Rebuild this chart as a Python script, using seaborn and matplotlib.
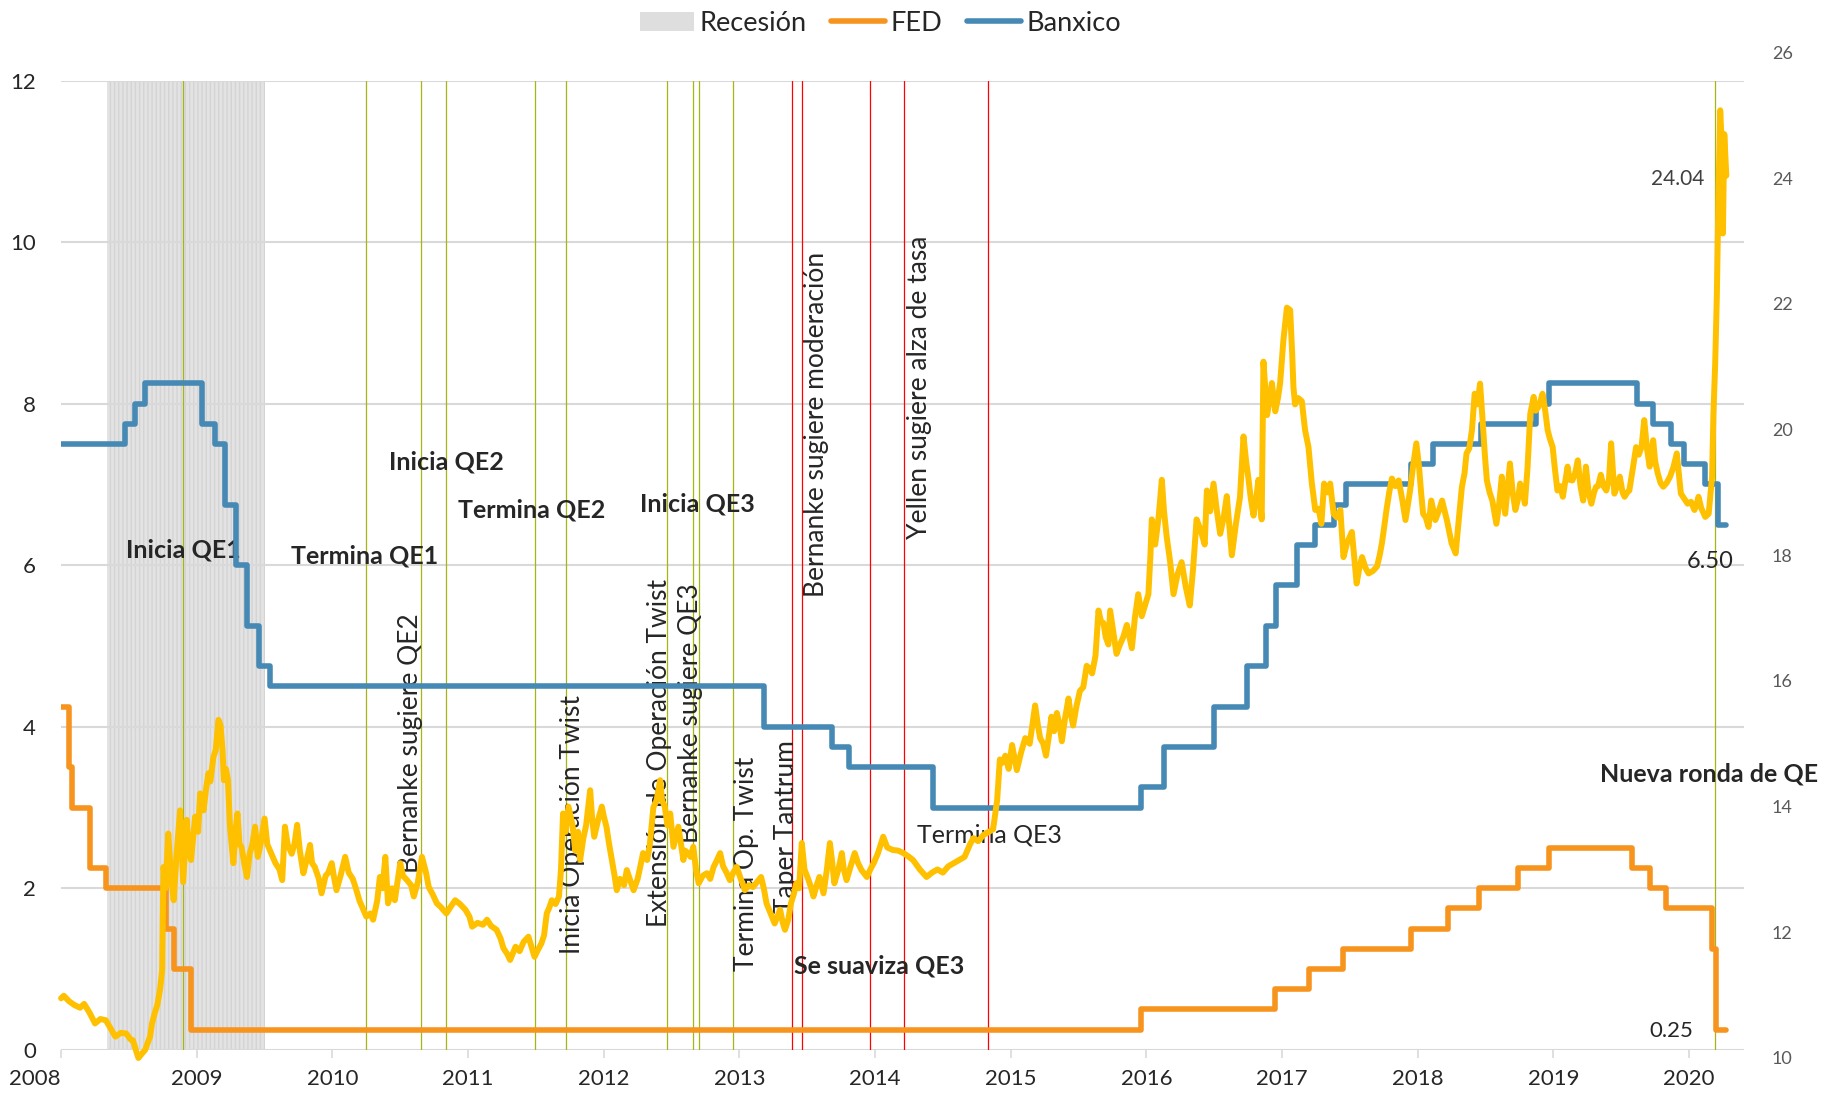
import matplotlib.pyplot as plt
import seaborn as sns
from matplotlib.lines import Line2D
from matplotlib.patches import Patch

# Tasa objetivo FED (limite superior), fechas en anios decimales
fed_t = [2008.00, 2008.056, 2008.08, 2008.21, 2008.33, 2008.77, 2008.83, 2008.96,
         2015.96, 2016.95, 2017.20, 2017.45, 2017.95, 2018.22, 2018.45, 2018.74,
         2018.97, 2019.58, 2019.71, 2019.83, 2020.17, 2020.20]
fed_rate = [4.25, 3.5, 3.0, 2.25, 2.0, 1.5, 1.0, 0.25,
            0.5, 0.75, 1.0, 1.25, 1.5, 1.75, 2.0, 2.25,
            2.5, 2.25, 2.0, 1.75, 1.25, 0.25]

# Tasa objetivo Banxico
banxico_t = [2008.00, 2008.47, 2008.545, 2008.62, 2009.04, 2009.135, 2009.21, 2009.29,
             2009.37, 2009.46, 2009.54, 2013.18, 2013.68, 2013.81, 2014.43, 2015.96,
             2016.13, 2016.50, 2016.745, 2016.88, 2016.955, 2017.11, 2017.24, 2017.38,
             2017.47, 2017.95, 2018.11, 2018.47, 2018.87, 2018.97, 2019.62, 2019.735,
             2019.87, 2019.965, 2020.12, 2020.215]
banxico_rate = [7.5, 7.75, 8.0, 8.25, 7.75, 7.5, 6.75, 6.0,
                5.25, 4.75, 4.5, 4.0, 3.75, 3.5, 3.0, 3.25,
                3.75, 4.25, 4.75, 5.25, 5.75, 6.25, 6.5, 6.75,
                7.0, 7.25, 7.5, 7.75, 8.0, 8.25, 8.0, 7.75,
                7.5, 7.25, 7.0, 6.5]

last_day = 2020.275

# Tipo de cambio USD/MXN (eje derecho)
fx_t = [
    2008.00, 2008.02, 2008.06, 2008.10, 2008.14, 2008.17, 2008.21, 2008.25, 2008.29, 2008.33,
    2008.37, 2008.40, 2008.44, 2008.48, 2008.51, 2008.53, 2008.555, 2008.57, 2008.60, 2008.62,
    2008.64, 2008.656, 2008.67, 2008.69, 2008.71, 2008.73, 2008.745, 2008.75, 2008.755, 2008.77,
    2008.79, 2008.81, 2008.83, 2008.85, 2008.877, 2008.90, 2008.926, 2008.94, 2008.958, 2008.988,
    2009.01, 2009.025, 2009.05, 2009.07, 2009.086, 2009.10, 2009.123, 2009.14, 2009.16, 2009.175,
    2009.19, 2009.20, 2009.215, 2009.23, 2009.245, 2009.27, 2009.285, 2009.30, 2009.315, 2009.33,
    2009.35, 2009.37, 2009.39, 2009.41, 2009.43, 2009.45, 2009.47, 2009.50, 2009.52, 2009.55,
    2009.58, 2009.61, 2009.63, 2009.65, 2009.67, 2009.70, 2009.72, 2009.74, 2009.76, 2009.786,
    2009.81, 2009.835, 2009.85, 2009.87, 2009.90, 2009.92, 2009.95, 2009.97, 2009.995,
    2010.01, 2010.03, 2010.06, 2010.094, 2010.12, 2010.15, 2010.17, 2010.20, 2010.23, 2010.25,
    2010.28, 2010.30, 2010.33, 2010.35, 2010.37, 2010.39, 2010.41, 2010.44, 2010.46, 2010.48,
    2010.50, 2010.52, 2010.55, 2010.58, 2010.60, 2010.63, 2010.66, 2010.69, 2010.71, 2010.74,
    2010.77, 2010.80, 2010.84, 2010.87, 2010.905, 2010.94, 2010.98,
    2011.01, 2011.03, 2011.07, 2011.11, 2011.14, 2011.17, 2011.21, 2011.24, 2011.26, 2011.29,
    2011.31, 2011.35, 2011.38, 2011.41, 2011.445, 2011.47, 2011.49, 2011.51, 2011.54, 2011.56,
    2011.58, 2011.60, 2011.617, 2011.645, 2011.67, 2011.685, 2011.70, 2011.72, 2011.74, 2011.77,
    2011.79, 2011.81, 2011.826, 2011.85, 2011.87, 2011.90, 2011.915, 2011.93, 2011.96, 2011.986,
    2012.00, 2012.02, 2012.04, 2012.06, 2012.08, 2012.096, 2012.12, 2012.15, 2012.17, 2012.20,
    2012.22, 2012.25, 2012.27, 2012.29, 2012.32, 2012.34, 2012.366, 2012.39, 2012.416, 2012.43,
    2012.45, 2012.47, 2012.49, 2012.514, 2012.53, 2012.55, 2012.57, 2012.587, 2012.60, 2012.62,
    2012.64, 2012.66, 2012.68, 2012.70, 2012.73, 2012.76, 2012.785, 2012.81, 2012.835, 2012.858,
    2012.88, 2012.905, 2012.93, 2012.955, 2012.98,
    2013.01, 2013.04, 2013.07, 2013.10, 2013.13, 2013.16, 2013.18, 2013.20, 2013.23, 2013.26,
    2013.28, 2013.30, 2013.32, 2013.336, 2013.36, 2013.38, 2013.40, 2013.42, 2013.44, 2013.46,
    2013.48, 2013.51, 2013.53, 2013.546, 2013.57, 2013.59, 2013.62, 2013.645, 2013.667, 2013.685,
    2013.70, 2013.73, 2013.755, 2013.77, 2013.79, 2013.82, 2013.85, 2013.875, 2013.90, 2013.94,
    2013.965, 2013.99,
    2014.02, 2014.06, 2014.09, 2014.13, 2014.17, 2014.21, 2014.25, 2014.28, 2014.33, 2014.38,
    2014.42, 2014.46, 2014.50, 2014.54, 2014.58, 2014.62, 2014.66, 2014.70, 2014.725, 2014.76,
    2014.80, 2014.84, 2014.87, 2014.90, 2014.92, 2014.94, 2014.96, 2014.985,
    2015.01, 2015.045, 2015.075, 2015.107, 2015.14, 2015.18, 2015.20, 2015.217, 2015.24, 2015.26,
    2015.28, 2015.30, 2015.32, 2015.34, 2015.36, 2015.377, 2015.40, 2015.426, 2015.44, 2015.46,
    2015.485, 2015.51, 2015.535, 2015.56, 2015.58, 2015.60, 2015.625, 2015.647, 2015.665, 2015.684,
    2015.70, 2015.72, 2015.733, 2015.755, 2015.78, 2015.80, 2015.83, 2015.856, 2015.875, 2015.893,
    2015.915, 2015.94, 2015.966, 2015.99,
    2016.015, 2016.03, 2016.04, 2016.065, 2016.09, 2016.114, 2016.13, 2016.15, 2016.175, 2016.20,
    2016.23, 2016.26, 2016.29, 2016.32, 2016.345, 2016.37, 2016.40, 2016.43, 2016.446, 2016.47,
    2016.495, 2016.52, 2016.544, 2016.57, 2016.593, 2016.61, 2016.63, 2016.66, 2016.69, 2016.716,
    2016.735, 2016.75, 2016.77, 2016.79, 2016.81, 2016.826, 2016.85, 2016.863, 2016.89, 2016.91,
    2016.925, 2016.95, 2016.97, 2016.986,
    2017.01, 2017.036, 2017.06, 2017.075, 2017.084, 2017.096, 2017.12, 2017.146, 2017.17, 2017.195,
    2017.22, 2017.245, 2017.27, 2017.29, 2017.31, 2017.335, 2017.355, 2017.38, 2017.405, 2017.43,
    2017.453, 2017.48, 2017.515, 2017.535, 2017.55, 2017.57, 2017.59, 2017.615, 2017.638, 2017.67,
    2017.70, 2017.72, 2017.736, 2017.75, 2017.77, 2017.79, 2017.81, 2017.835, 2017.86, 2017.885,
    2017.91, 2017.944, 2017.965, 2017.99,
    2018.01, 2018.025, 2018.04, 2018.06, 2018.08, 2018.10, 2018.13, 2018.155, 2018.18, 2018.215,
    2018.23, 2018.25, 2018.28, 2018.30, 2018.326, 2018.345, 2018.36, 2018.38, 2018.40, 2018.42,
    2018.44, 2018.46, 2018.48, 2018.495, 2018.51, 2018.53, 2018.55, 2018.58, 2018.60, 2018.62,
    2018.645, 2018.66, 2018.68, 2018.70, 2018.72, 2018.74, 2018.755, 2018.775, 2018.79, 2018.81,
    2018.83, 2018.855, 2018.87, 2018.89, 2018.905, 2018.92, 2018.94, 2018.958, 2018.975, 2018.995,
    2019.01, 2019.03, 2019.05, 2019.07, 2019.09, 2019.105, 2019.12, 2019.14, 2019.16, 2019.18,
    2019.20, 2019.22, 2019.24, 2019.26, 2019.28, 2019.30, 2019.315, 2019.33, 2019.35, 2019.37,
    2019.39, 2019.41, 2019.426, 2019.44, 2019.45, 2019.47, 2019.49, 2019.51, 2019.525, 2019.545,
    2019.56, 2019.58, 2019.61, 2019.63, 2019.65, 2019.67, 2019.69, 2019.71, 2019.72, 2019.736,
    2019.75, 2019.77, 2019.79, 2019.81, 2019.835, 2019.86, 2019.885, 2019.91, 2019.925, 2019.94,
    2019.965, 2019.99,
    2020.015, 2020.04, 2020.055, 2020.07, 2020.09, 2020.12, 2020.145, 2020.17, 2020.18, 2020.193,
    2020.205, 2020.217, 2020.23, 2020.242, 2020.25, 2020.26, 2020.275,
]
fx_mxn = [
    10.95, 10.99, 10.90, 10.84, 10.80, 10.86, 10.72, 10.55, 10.62, 10.60,
    10.45, 10.34, 10.40, 10.39, 10.30, 10.28, 10.10, 10.00, 10.08, 10.13,
    10.25, 10.34, 10.55, 10.71, 10.85, 11.10, 11.40, 12.30, 13.04, 12.70,
    13.57, 12.90, 12.51, 13.20, 13.94, 12.80, 13.79, 13.30, 13.15, 13.84,
    13.60, 14.21, 13.94, 14.30, 14.53, 14.40, 14.79, 14.90, 15.38, 15.30,
    14.90, 14.42, 14.60, 14.42, 13.68, 13.10, 13.60, 13.89, 13.40, 13.36,
    13.10, 12.88, 13.25, 13.40, 13.68, 13.20, 13.40, 13.81, 13.40, 13.25,
    13.10, 13.00, 12.83, 13.68, 13.40, 13.25, 13.40, 13.71, 13.30, 12.94,
    13.15, 13.39, 13.10, 13.04, 12.85, 12.62, 12.90, 12.95, 13.10,
    12.90, 12.67, 12.90, 13.20, 12.95, 12.85, 12.72, 12.50, 12.35, 12.25,
    12.30, 12.20, 12.50, 12.88, 12.70, 13.20, 12.46, 12.70, 12.51, 12.80,
    13.10, 12.90, 12.83, 12.75, 12.57, 12.80, 13.20, 12.95, 12.72, 12.60,
    12.46, 12.40, 12.30, 12.40, 12.51, 12.45, 12.36,
    12.25, 12.09, 12.15, 12.12, 12.20, 12.10, 12.04, 11.90, 11.75, 11.65,
    11.56, 11.77, 11.70, 11.85, 11.93, 11.75, 11.61, 11.70, 11.82, 11.95,
    12.30, 12.40, 12.51, 12.45, 12.57, 13.00, 13.89, 13.60, 14.00, 13.70,
    13.30, 13.60, 13.15, 13.50, 13.70, 14.26, 13.80, 13.52, 13.80, 14.00,
    13.85, 13.68, 13.40, 13.15, 12.90, 12.67, 12.85, 12.75, 12.99, 12.80,
    12.67, 12.85, 13.05, 13.26, 13.15, 13.40, 13.99, 14.10, 14.42, 14.10,
    14.00, 13.70, 13.89, 13.36, 13.50, 13.68, 13.40, 13.15, 13.30, 13.26,
    13.20, 13.36, 13.00, 12.78, 12.90, 12.94, 12.85, 13.04, 13.15, 13.26,
    13.05, 12.95, 12.83, 12.95, 13.04,
    12.85, 12.67, 12.75, 12.72, 12.80, 12.88, 12.70, 12.46, 12.30, 12.14,
    12.25, 12.36, 12.15, 12.04, 12.20, 12.46, 12.60, 12.78, 12.70, 13.42,
    13.00, 12.83, 12.70, 12.57, 12.75, 12.88, 12.62, 13.00, 13.42, 13.10,
    12.78, 13.00, 13.26, 13.00, 12.83, 13.05, 13.26, 13.10, 12.99, 12.88,
    13.00, 13.10,
    13.25, 13.52, 13.35, 13.31, 13.30, 13.26, 13.20, 13.15, 13.00, 12.88,
    12.95, 13.00, 12.95, 13.05, 13.10, 13.15, 13.20, 13.40, 13.50, 13.45,
    13.55, 13.60, 13.64, 14.10, 14.75, 14.70, 14.81, 14.60,
    14.98, 14.58, 14.85, 15.09, 15.00, 15.61, 15.30, 15.09, 15.00, 14.81,
    15.10, 15.43, 15.20, 15.49, 15.30, 15.04, 15.40, 15.72, 15.50, 15.29,
    15.60, 15.84, 15.90, 16.24, 16.20, 16.12, 16.40, 17.12, 16.95, 16.92,
    16.70, 16.58, 17.12, 16.80, 16.43, 16.55, 16.70, 16.89, 16.70, 16.52,
    17.00, 17.38, 17.03, 17.20,
    17.38, 18.00, 18.57, 18.17, 18.60, 19.20, 18.70, 18.29, 17.90, 17.38,
    17.70, 17.89, 17.50, 17.20, 17.80, 18.57, 18.40, 18.17, 19.03, 18.70,
    19.14, 18.70, 18.34, 18.60, 18.94, 18.50, 18.00, 18.50, 18.92, 19.89,
    19.50, 19.26, 18.90, 18.63, 18.90, 19.20, 18.57, 21.08, 20.23, 20.50,
    20.74, 20.29, 20.50, 20.74,
    21.42, 21.94, 21.90, 21.20, 20.68, 20.40, 20.50, 20.45, 19.99, 19.72,
    19.14, 18.72, 18.74, 18.50, 19.14, 19.00, 19.14, 18.66, 18.60, 18.72,
    17.97, 18.20, 18.37, 17.90, 17.55, 17.80, 17.97, 17.80, 17.71, 17.75,
    17.82, 18.00, 18.19, 18.40, 18.72, 19.00, 19.22, 19.10, 19.19, 18.90,
    18.56, 19.03, 19.40, 19.78,
    19.41, 19.00, 18.66, 18.60, 18.45, 18.87, 18.56, 18.70, 18.87, 18.56,
    18.40, 18.19, 18.03, 18.50, 19.09, 19.30, 19.62, 19.70, 19.99, 20.57,
    20.40, 20.73, 20.10, 19.60, 19.19, 19.00, 18.87, 18.50, 18.80, 19.25,
    18.66, 19.00, 19.46, 19.00, 18.72, 18.90, 19.14, 19.00, 18.82, 19.40,
    20.25, 20.52, 20.30, 20.36, 20.45, 20.57, 20.30, 19.99, 19.85, 19.72,
    19.40, 19.03, 19.10, 18.93, 19.20, 19.41, 19.20, 19.19, 19.30, 19.51,
    19.10, 18.87, 19.41, 19.00, 18.82, 19.00, 19.09, 19.10, 19.28, 19.10,
    19.03, 19.20, 19.78, 19.30, 18.98, 19.10, 19.25, 19.00, 18.93, 19.00,
    19.03, 19.30, 19.72, 19.60, 19.72, 20.15, 19.70, 19.41, 19.60, 19.83,
    19.50, 19.30, 19.15, 19.09, 19.15, 19.25, 19.40, 19.62, 19.30, 18.98,
    18.90, 18.82,
    18.85, 18.72, 18.80, 18.93, 18.75, 18.61, 18.66, 19.25, 20.25, 21.05,
    22.11, 23.70, 25.08, 24.50, 23.12, 24.70, 24.04,
]

recession = (2008.335, 2009.50)
# eventos de politica monetaria
qe_events = [2008.90, 2010.247, 2010.655, 2010.84, 2011.49, 2011.72, 2012.47,
             2012.66, 2012.70, 2012.95, 2020.19]
taper_events = [2013.39, 2013.465, 2013.96, 2014.21, 2014.83]

years = list(range(2008, 2021))

FED_C = '#f7941d'
BANXICO_C = '#4689b4'
FX_C = '#ffc000'

sns.set_style('white')
plt.rcParams['font.family'] = ['Lato', 'DejaVu Sans']

fig = plt.figure(figsize=(18.29, 11), dpi=100)
ax = fig.add_axes([0.0334, 0.0456, 0.9201, 0.8812])
ax2 = fig.add_axes([0.0334, 0.0382, 0.9201, 0.9141], sharex=ax)

ax.axvspan(*recession, facecolor='#e3e3e3', edgecolor='#d4d4d4', hatch='||||', lw=0, zorder=0)
for x in qe_events:
    ax.axvline(x, color='#a6b512', lw=0.9, zorder=1)
for x in taper_events:
    ax.axvline(x, color='#ff0000', lw=0.9, zorder=1)

sns.lineplot(x=fed_t + [last_day], y=fed_rate + [fed_rate[-1]], drawstyle='steps-post',
             color=FED_C, lw=4.0, ax=ax, estimator=None, sort=False, legend=False)
sns.lineplot(x=banxico_t + [last_day], y=banxico_rate + [banxico_rate[-1]], drawstyle='steps-post',
             color=BANXICO_C, lw=4.0, ax=ax, estimator=None, sort=False, legend=False)
sns.lineplot(x=fx_t, y=fx_mxn, color=FX_C, lw=4.3, ax=ax2, estimator=None, sort=False, legend=False)
ax2.lines[-1].set_clip_on(False)

# ejes
ax.set_xlim(2008, 2020.405)
ax.set_ylim(0, 12)
ax.set_yticks(range(0, 13, 2))
ax.set_xticks(years)
ax.set_xticklabels([str(y) for y in years])
ax.get_xticklabels()[0].set_ha('right')
ax.set_xlabel('')
ax.set_ylabel('')
ax.grid(axis='y', color='#d9d9d9', lw=1.5)
ax.grid(axis='x', visible=False)
for s in ax.spines.values():
    s.set_visible(False)
ax.tick_params(axis='x', bottom=True, length=6, width=1.2, color='#d9d9d9', pad=8, labelsize=16)
ax.tick_params(axis='y', left=False, length=0, pad=18, labelsize=16)

ax2.set_ylim(10, 26)
ax2.set_yticks(range(10, 27, 2))
ax2.yaxis.tick_right()
ax2.tick_params(axis='y', right=False, length=0, pad=20, labelsize=13, labelcolor='#595959')
ax2.xaxis.set_visible(False)
ax2.patch.set_alpha(0)
ax2.grid(False)
ax2.set_ylabel('')
for s in ax2.spines.values():
    s.set_visible(False)

# anotaciones
bold_notes = [('Inicia QE1', 2008.90, 6.19), ('Termina QE1', 2010.24, 6.11),
              ('Inicia QE2', 2010.84, 7.28), ('Termina QE2', 2011.47, 6.68),
              ('Inicia QE3', 2012.69, 6.76), ('Se suaviza QE3', 2014.03, 1.04),
              ('Nueva ronda de QE', 2020.15, 3.42)]
for txt, x, y in bold_notes:
    ax.text(x, y, txt, ha='center', va='center', fontsize=18, fontweight='bold', zorder=1.5)
ax.text(2014.84, 2.66, 'Termina QE3', ha='center', va='center', fontsize=18, zorder=1.5)

vert_notes = [('Bernanke sugiere QE2', 2010.577, 2.195), ('Inicia Operación Twist', 2011.77, 1.19),
              ('Extensión de Operación Twist', 2012.41, 1.515), ('Bernanke sugiere QE3', 2012.64, 2.555),
              ('Termina Op. Twist', 2013.054, 0.98), ('Taper Tantrum', 2013.346, 1.70),
              ('Bernanke sugiere moderación', 2013.57, 5.60), ('Yellen sugiere alza de tasa', 2014.327, 6.32)]
for txt, x, y in vert_notes:
    ax.text(x, y, txt, rotation=90, ha='center', va='bottom', fontsize=19, zorder=1.5)

ax2.text(2020.11, fx_mxn[-1] - 0.05, f'{fx_mxn[-1]:.2f}', ha='right', va='center', fontsize=15, color='#404040')
ax.text(2020.155, 6.04, f'{banxico_rate[-1]:.2f}', ha='center', va='center', fontsize=17, zorder=5)
ax.text(2020.03, 0.23, f'{fed_rate[-1]:.2f}', ha='right', va='center', fontsize=16, zorder=5)

handles = [Patch(facecolor='#dedede', edgecolor='none'),
           Line2D([0], [0], color=FED_C, lw=4),
           Line2D([0], [0], color=BANXICO_C, lw=4)]
fig.legend(handles, ['Recesión', 'FED', 'Banxico'], loc='center', bbox_to_anchor=(0.4815, 0.979),
           ncol=3, frameon=False, fontsize=19.5, handlelength=2.0, handletextpad=0.2, columnspacing=0.9)

fig.savefig('out.png', dpi=100)
